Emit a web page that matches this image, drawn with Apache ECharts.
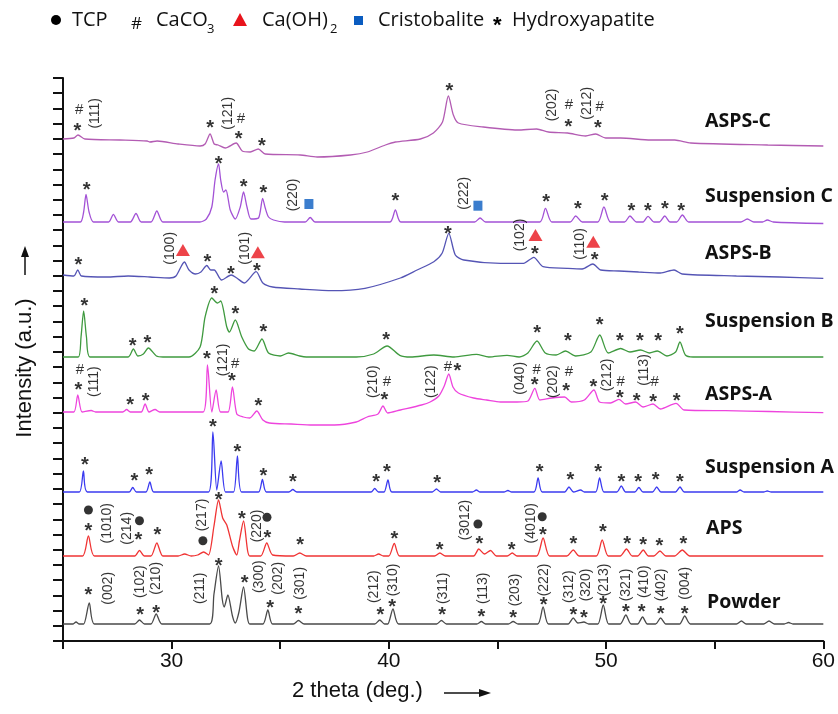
<!DOCTYPE html>
<html><head><meta charset="utf-8">
<script src="https://cdn.jsdelivr.net/npm/echarts@6/dist/echarts.min.js"></script>
<style>html,body{margin:0;padding:0;background:#fff}#c{width:838px;height:714px}</style>
</head><body><div id="c"></div>
<script>
// ---- data: [2theta (deg), intensity above own baseline (a.u.)] ----
const seriesNames = ['ASPS-C','Suspension C','ASPS-B','Suspension B','ASPS-A','Suspension A','APS','Powder'];
const offsets = [502, 419, 366, 284, 229, 149, 85, 17];

const asspC = [[25,0],[25.5,1],[25.69,4],[26.01,0],[27.63,-1],[28.87,-2],[29.0,-3],[29.33,-2],[30.3,-5],[31.31,-7],[31.54,-5],[31.77,5],[31.96,-5],[32.14,-6],[32.47,-9],[32.97,-4],[33.25,-12],[33.62,-13],[33.99,-10],[34.31,-15],[35.92,-16],[36.7,-18],[38.23,-16],[39.01,-13],[39.84,-6],[40.3,-3],[41.45,0],[42.05,6],[42.47,17],[42.74,43],[42.97,24],[43.2,16],[44.35,12],[45.92,9],[46.8,10],[47.35,7],[48.23,6],[49.06,3],[49.52,5],[49.98,1],[50.67,1],[52.05,-1],[53.16,-1],[53.9,-4],[57.44,-6],[60,-7]];
const suspC = [[25,0],[25.8,0],[25.95,10],[26.06,27.5],[26.2,10],[26.4,0],[27.1,0],[27.32,7.7],[27.55,0],[28.1,0],[28.36,8.5],[28.6,0],[29.05,0],[29.32,11],[29.6,0],[31.3,0],[31.6,3],[31.85,15],[32.0,42],[32.16,58],[32.26,42],[32.39,30],[32.5,32],[32.7,12],[32.93,3],[33.16,15],[33.31,30],[33.47,15],[33.65,3],[34.0,4],[34.19,23.7],[34.31,14],[34.46,5],[34.69,2],[35.2,0],[36.15,0],[36.38,4.5],[36.6,0],[40.05,0],[40.3,12],[40.55,0],[43.95,0],[44.2,4],[44.45,0],[46.95,0],[47.21,13.7],[47.5,0],[48.35,0],[48.6,6],[48.9,0],[49.62,0],[49.9,15],[50.2,0],[50.85,0],[51.1,6],[51.4,0],[51.7,0],[51.93,5.7],[52.2,0],[52.45,0],[52.7,6],[52.95,0],[53.25,0],[53.51,7],[53.8,0],[56.2,0],[56.5,3],[56.8,0],[57.2,0],[57.42,2],[57.7,0],[60,-1.5]];
const aspsB = [[25,0],[25.5,-1],[25.68,5],[25.85,-1],[27,-2],[28,-1],[29,-2],[29.9,-3],[30.2,-1],[30.59,13],[30.8,5],[31.1,1],[31.35,3],[31.62,9.5],[31.8,5],[31.96,5],[32.3,-5],[32.74,0],[33.0,-3],[33.35,-8],[33.89,3.3],[34.2,-8],[34.65,-12],[35.9,-14],[37.4,-15.7],[38.9,-13.3],[40.53,-3],[41.3,5],[42.07,13.3],[42.45,21.7],[42.76,41.7],[43.06,20],[43.45,15],[45.14,11.7],[46.2,11.7],[46.67,17.7],[47.1,8.3],[48.2,6.7],[48.9,6],[49.39,11],[49.75,5],[50.6,4],[51.5,3],[52.5,2],[53.13,5],[53.5,1],[56,-1],[58,-2],[60,-3.3]];
const suspB = [[25,0],[25.7,0],[25.83,20],[25.95,46],[26.08,20],[26.25,0],[28.0,0],[28.24,8],[28.45,1],[28.7,3],[28.93,9],[29.3,1],[29.6,0],[30.8,0],[31.31,10],[31.54,40],[31.85,59],[32.11,54],[32.26,56],[32.54,30],[32.66,25],[32.93,37],[33.23,20],[33.54,8],[33.8,6],[34.16,18],[34.46,4],[35.0,1],[35.38,4],[35.9,1],[36.2,0],[38.5,0],[39.3,3],[39.92,11],[40.5,1.7],[41.0,0],[42.07,2],[43.0,0],[44.03,2.7],[44.6,0],[45.44,1.7],[46.0,0],[46.4,4],[46.82,16],[47.2,4],[47.7,2],[48.13,6],[48.6,1],[49.3,5],[49.71,22],[50.1,4],[50.67,8.5],[51.1,5],[51.59,7],[52.0,4],[52.36,6],[52.8,1],[53.2,5],[53.4,15],[53.65,2],[54.0,0],[60,0]];
const aspsA = [[25,0],[25.5,0],[25.68,17],[25.88,0],[26.3,1.5],[26.5,0],[27.75,0],[27.93,2.5],[28.1,0],[28.6,0],[28.78,8],[28.96,0],[29.24,2.5],[29.45,0],[31.45,0],[31.65,47],[31.85,0],[32.05,22],[32.25,0],[32.6,0],[32.8,25],[33.0,-2],[33.3,-5],[33.6,-6],[33.92,1],[34.2,-8],[34.5,-11],[35.5,-12],[36.5,-13],[37.5,-13],[38.5,-10],[39.0,-5],[39.5,-2],[39.73,6],[39.95,-1],[40.53,2],[41.5,7],[41.9,10],[42.3,16],[42.55,26],[42.76,38],[42.95,25],[43.2,19],[43.9,14],[44.5,12],[45.14,10],[45.9,10],[46.4,11],[46.72,23.7],[46.95,12],[47.5,14],[48.09,15],[48.4,10],[49.0,12],[49.44,22],[49.7,10],[50.2,9],[50.59,12.7],[50.9,8],[51.36,10],[51.7,5],[52.16,8],[52.5,3],[53.22,8.7],[53.6,2],[55.5,1.3],[57.5,0.5],[60,-0.7]];
const suspA = [[25,0],[25.75,0],[25.94,21],[26.12,0],[28.05,0],[28.21,4.5],[28.38,0],[28.82,0],[29.0,10],[29.18,0],[31.7,0],[31.9,60],[32.08,2],[32.28,31],[32.48,0],[32.85,0],[33.03,36],[33.22,0],[34.0,0],[34.18,12.5],[34.36,0],[35.4,0],[35.58,2.5],[35.76,0],[39.18,0],[39.35,3.5],[39.52,0],[39.78,0],[39.96,12],[40.14,0],[42.0,0],[42.19,3],[42.38,0],[43.85,0],[44.03,2],[44.2,0],[45.3,0],[45.48,1.5],[45.65,0],[46.68,0],[46.87,14],[47.06,0],[48.1,0],[48.29,5],[48.5,0],[48.83,2],[49.0,0],[49.52,0],[49.7,14],[49.9,0],[50.5,0],[50.7,6],[50.9,0],[51.32,0],[51.51,4.5],[51.7,0],[52.14,0],[52.33,5],[52.52,0],[53.2,0],[53.4,5],[53.6,0],[56.0,0],[56.17,2],[56.35,0],[57.25,0],[57.42,1],[57.6,0],[60,0]];
const aps = [[25,0],[25.9,0],[26.17,20],[26.45,0],[28.3,0],[28.52,5.5],[28.75,0],[29.05,0],[29.32,13],[29.6,0],[30.3,0],[30.6,2],[30.9,0],[31.2,1],[31.47,4],[31.7,1],[31.95,30],[32.16,56],[32.35,38],[32.54,31],[32.8,10],[33.0,1],[33.12,15],[33.31,35],[33.5,5],[33.6,0],[34.1,0],[34.38,13],[34.65,1],[35.6,0],[35.9,3],[36.2,0],[39.3,0],[39.53,2],[39.75,0],[40.0,0],[40.25,12.5],[40.5,0],[42.1,0],[42.35,3],[42.6,0],[43.9,0],[44.14,7],[44.4,2],[44.68,5.5],[44.95,0],[45.45,0],[45.68,3],[45.9,0],[46.8,0],[47.1,18],[47.4,0],[48.2,0],[48.49,6],[48.75,0],[49.55,0],[49.82,16],[50.1,0],[50.65,0],[50.94,7],[51.2,0],[51.45,0],[51.71,6],[51.95,0],[52.2,0],[52.48,5],[52.75,0],[53.15,0],[53.51,6],[53.85,0],[60,0]];
const powder = [[25,0],[25.45,0],[25.6,2],[25.75,0],[25.95,0],[26.21,21],[26.45,0],[28.3,0],[28.52,4],[28.75,0],[29.05,0],[29.29,10],[29.55,0],[31.75,0],[31.95,30],[32.16,58],[32.33,25],[32.42,17],[32.59,29],[32.8,8],[32.93,1],[33.1,12],[33.31,37],[33.5,5],[33.6,0],[34.2,0],[34.43,14],[34.65,0],[35.6,0],[35.84,3.5],[36.1,0],[39.35,0],[39.58,4],[39.8,0],[39.95,0],[40.19,15],[40.45,0],[42.2,0],[42.42,3.5],[42.65,0],[44.05,0],[44.26,2.5],[44.45,0],[45.5,0],[45.72,2.5],[45.95,0],[46.85,0],[47.1,17],[47.35,0],[48.25,0],[48.49,6],[48.7,1],[48.98,2],[49.2,0],[49.62,0],[49.87,19],[50.12,0],[50.65,0],[50.91,9],[51.15,0],[51.45,0],[51.68,7],[51.9,0],[52.28,0],[52.51,6],[52.75,0],[53.38,0],[53.62,8],[53.88,0],[56.0,0],[56.23,3],[56.45,0],[57.25,0],[57.5,3],[57.75,0],[58.2,0],[58.4,1.5],[58.6,0],[60,0]];

// ---- annotations: [2theta, intensity on stacked scale, text] ----
const hapStars = [[25.66,515],[31.77,517.7],[33.08,507],[34.16,499.7],[42.79,554.3],[48.26,518.3],[49.62,517.7],
 [26.09,456],[32.16,481.7],[33.31,458.3],[34.23,452.7],[40.3,444.3],[47.24,443.7],[48.7,437],[49.93,445],[51.16,434.3],[51.93,434.3],[52.71,437],[53.46,434.3],
 [25.71,381],[31.65,383.7],[32.73,372],[33.92,375],[42.72,411.7],[46.72,391.7],[49.47,386],
 [25.98,340],[28.21,299.3],[28.88,302.7],[31.97,351.7],[32.94,331.7],[34.23,313.3],[39.88,306],[46.83,312.7],[48.24,304.3],[49.7,320.3],[50.64,304.3],[51.56,304.3],[52.4,304.3],[53.4,311.7],
 [25.71,256],[28.09,241],[28.81,244.3],[31.62,287],[32.77,264.3],[34.0,239.3],[39.79,246],[43.16,274.3],[46.71,261],[48.16,254.3],[49.41,258.3],[50.64,247.7],[51.41,245],[52.17,243.3],[53.25,244.3],
 [26.01,180.3],[28.29,164.3],[28.96,171],[31.9,218.3],[33.03,193.7],[34.23,170],[35.58,163.7],[39.41,163.7],[39.91,173.7],[42.22,162.7],[46.94,173.7],[48.36,165.3],[49.64,173.7],[50.71,163.7],[51.48,163.7],[52.28,165.3],[53.4,163.7],
 [26.17,115],[28.47,105.3],[29.35,111],[32.16,146],[33.23,127],[34.41,107.7],[35.92,101],[40.25,107],[42.34,96],[44.17,102],[45.65,96],[47.09,110.3],[48.49,101.7],[49.85,113.7],[50.97,101.7],[51.71,101],[52.45,99.3],[53.56,101.7],
 [26.17,50.3],[28.55,30.3],[29.29,32.7],[32.16,79.3],[33.36,62.7],[34.54,37.7],[35.84,31.7],[39.61,30.3],[40.15,38.3],[42.45,30.3],[44.26,28.7],[45.72,27.7],[47.13,40.3],[48.49,30.3],[48.98,27.7],[49.87,41.7],[50.91,33.7],[51.64,33.3],[52.51,31.7],[53.62,31.7]];
const caco3Hashes = [[25.74,531],[33.19,521.7],[42.87,566],[48.29,536],[49.71,534.3],
 [25.78,271],[32.93,277],[39.91,259.3],[42.72,274.3],[46.8,271],[48.29,269.3],[50.67,259.3],[52.24,259.3]];
const tcpDots = [[26.17,131],[28.52,120.3],[31.44,100.3],[34.39,123.7],[44.1,117],[47.06,124.3]];
const caOH2Triangles = [[30.52,391],[33.97,388.7],[46.75,406],[49.41,399.3]];
const cristobaliteSquares = [[36.32,437],[44.1,435.3]];
const hklLabels = [[26.47,527.7,'(111)'],[32.62,527.7,'(121)'],[41.99,566,'(122)'],[47.52,536,'(202)'],[49.13,537.7,'(212)'],
 [35.61,446,'(220)'],[43.45,447.7,'(222)'],
 [29.93,392.7,'(100)'],[33.39,392.7,'(101)'],[46.06,406,'(102)'],[48.82,397,'(110)'],
 [26.44,259.3,'(111)'],[32.39,281,'(121)'],[39.27,259.3,'(210)'],[41.94,259.3,'(122)'],[46.06,262.7,'(040)'],[47.56,259.3,'(202)'],[50.05,266,'(212)'],[51.74,271,'(113)'],
 [27.01,117.7,'(1010)'],[27.96,112.7,'(214)'],[31.39,126,'(217)'],[33.95,115,'(220)'],[43.53,121,'(3012)'],[46.55,117.7,'(4010)'],
 [27.09,52.7,'(002)'],[28.55,59.3,'(102)'],[29.29,62.7,'(210)'],[31.31,52.7,'(211)'],[34.05,64.3,'(300)'],[34.89,62.7,'(202)'],[35.92,57.7,'(301)'],[39.33,54.3,'(212)'],[40.22,61,'(310)'],
 [42.5,52.7,'(311)'],[44.34,52.7,'(113)'],[45.83,51,'(203)'],[47.17,61,'(222)'],[48.29,54.3,'(312)'],[49.06,56,'(320)'],[49.93,61,'(213)'],[50.94,56,'(321)'],[51.74,59.3,'(410)'],[52.54,56,'(402)'],[53.66,57.7,'(004)']];
const xTicks = [25, 30, 35, 40, 45, 50, 55, 60];

// ---- styles / layout ----
const traces = [asspC, suspC, aspsB, suspB, aspsA, suspA, aps, powder];
const colors = ['#b35cb3','#a352d6','#5555b5','#3f9a3f','#ee44dd','#3b3bf0','#f03434','#4a4a4a'];
const nameTop = [123, 198, 255, 323, 396, 469, 530, 604];
const nameLeft = [705, 705, 705, 705, 705, 705, 706, 707];
const FONT = 'Liberation Sans, Arial, sans-serif';
const OFONT = '"Open Sans", sans-serif';

const chart = echarts.init(document.getElementById('c'), null, {renderer: 'canvas'});
const series = traces.map((t, i) => ({
  type: 'line', name: seriesNames[i], showSymbol: false, symbol: 'none', smooth: 0.25,
  lineStyle: {color: colors[i], width: 1.3}, z: 2,
  data: t.map(p => [p[0], offsets[i] + p[1]])
}));
const txtLabel = (size, extra) => Object.assign({show: true, position: 'inside', color: '#000', fontFamily: FONT, fontSize: size}, extra || {});
series.push({type: 'scatter', symbolSize: 0.1, itemStyle: {color: 'transparent'}, z: 5, silent: true,
  label: txtLabel(20, {formatter: '*', fontWeight: 'bold', offset: [0, 5]}), data: hapStars});
series.push({type: 'scatter', symbolSize: 0.1, itemStyle: {color: 'transparent'}, z: 5, silent: true,
  label: txtLabel(15, {formatter: '#'}), data: caco3Hashes});
series.push({type: 'scatter', symbolSize: 0.1, itemStyle: {color: 'transparent'}, z: 5, silent: true,
  label: txtLabel(14, {formatter: p => p.value[2], rotate: 90}), data: hklLabels});
series.push({type: 'scatter', symbol: 'circle', symbolSize: 9, itemStyle: {color: '#000'}, z: 5, silent: true, data: tcpDots});
series.push({type: 'scatter', symbol: 'triangle', symbolSize: [14, 12], itemStyle: {color: '#e8141c'}, z: 5, silent: true, data: caOH2Triangles});
series.push({type: 'scatter', symbol: 'rect', symbolSize: [9, 10], itemStyle: {color: '#0a5cc0'}, z: 5, silent: true, data: cristobaliteSquares});

const graphics = [];
seriesNames.forEach((n, i) => graphics.push({type: 'text', left: nameLeft[i], top: nameTop[i] - 12,
  style: {text: n, font: 'bold 19.5px ' + OFONT, fill: '#111'}}));
// legend
const LY = 20;
graphics.push({type: 'circle', shape: {cx: 56, cy: LY, r: 5}, style: {fill: '#000'}});
graphics.push({type: 'text', x: 72, y: LY, style: {text: 'TCP', font: '20px ' + OFONT, fill: '#111', verticalAlign: 'middle'}});
graphics.push({type: 'text', x: 131, y: LY + 4, style: {text: '#', font: '17px ' + OFONT, fill: '#111', verticalAlign: 'middle'}});
graphics.push({type: 'text', x: 156, y: LY, style: {text: 'CaCO', font: '20px ' + OFONT, fill: '#111', verticalAlign: 'middle'}});
graphics.push({type: 'text', x: 207, y: LY + 9, style: {text: '3', font: '13px ' + OFONT, fill: '#111', verticalAlign: 'middle'}});
graphics.push({type: 'polygon', shape: {points: [[240, LY - 7], [233, LY + 6], [247, LY + 6]]}, style: {fill: '#e8141c'}});
graphics.push({type: 'text', x: 262, y: LY, style: {text: 'Ca(OH)', font: '20px ' + OFONT, fill: '#111', verticalAlign: 'middle'}});
graphics.push({type: 'text', x: 330, y: LY + 9, style: {text: '2', font: '13px ' + OFONT, fill: '#111', verticalAlign: 'middle'}});
graphics.push({type: 'rect', shape: {x: 354, y: LY - 4, width: 9, height: 9}, style: {fill: '#0a5cc0'}});
graphics.push({type: 'text', x: 378, y: LY, style: {text: 'Cristobalite', font: '20px ' + OFONT, fill: '#111', verticalAlign: 'middle'}});
graphics.push({type: 'text', x: 493, y: LY + 6, style: {text: '*', font: 'bold 22px ' + FONT, fill: '#000', verticalAlign: 'middle'}});
graphics.push({type: 'text', x: 512, y: LY, style: {text: 'Hydroxyapatite', font: '20px ' + OFONT, fill: '#111', verticalAlign: 'middle'}});
// axis titles with arrows
graphics.push({type: 'text', x: 25, y: 368, rotation: Math.PI / 2,
  style: {text: 'Intensity (a.u.)', font: '22px ' + FONT, fill: '#111', align: 'center', verticalAlign: 'middle'}});
graphics.push({type: 'line', shape: {x1: 25, y1: 275, x2: 25, y2: 256}, style: {stroke: '#111', lineWidth: 1.5}});
graphics.push({type: 'polygon', shape: {points: [[25, 246], [21, 257], [29, 257]]}, style: {fill: '#111'}});
graphics.push({type: 'text', x: 292, y: 691, style: {text: '2 theta (deg.)', font: '22px ' + FONT, fill: '#111', verticalAlign: 'middle'}});
graphics.push({type: 'line', shape: {x1: 444, y1: 693, x2: 480, y2: 693}, style: {stroke: '#111', lineWidth: 1.5}});
graphics.push({type: 'polygon', shape: {points: [[491, 693], [479, 689], [479, 697]]}, style: {fill: '#111'}});

chart.setOption({
  animation: false,
  backgroundColor: '#fff',
  grid: {left: 63, right: 12, top: 78, bottom: 73, containLabel: false},
  xAxis: {type: 'value', min: xTicks[0], max: xTicks[xTicks.length - 1], interval: 5,
    axisLine: {lineStyle: {color: '#111', width: 2}},
    axisTick: {length: 8, lineStyle: {color: '#111', width: 2}},
    axisLabel: {color: '#111', fontSize: 21, fontFamily: FONT, margin: 10, formatter: v => (v % 10 === 0 && v !== 20) ? String(v) : ''},
    splitLine: {show: false}},
  yAxis: {type: 'value', min: 0, max: 563, interval: 563 / 37,
    axisLine: {show: true, lineStyle: {color: '#111', width: 2}},
    axisTick: {show: true, length: 10, lineStyle: {color: '#111', width: 2}},
    axisLabel: {show: false}, splitLine: {show: false}},
  series: series,
  graphic: graphics
});
</script></body></html>
